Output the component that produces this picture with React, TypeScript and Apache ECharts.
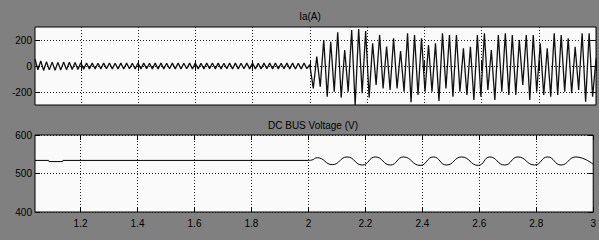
import React, { useEffect, useRef } from "react";
import * as echarts from "echarts";

// ---- data ----
const X_MIN = 1.04;
const X_MAX = 3;
const X_TICKS = [1.2, 1.4, 1.6, 1.8, 2, 2.2, 2.4, 2.6, 2.8, 3];
const IA_TICKS = [-200, 0, 200];
const V_TICKS = [400, 500, 600];

const IA_TITLE = "Ia(A)";
const V_TITLE = "DC BUS Voltage (V)";

// Ia before the load step: sampled every half cycle starting at 1.04 s
const IA_PRE_START = 1.04;
const IA_PRE_STEP = 0.01;
const iaPre = [
  54, -30, 38, -34, 32, -30, 30, -32, 28, -30,
  30, -28, 28, -27, 26, -26, 25, -24, 23, -22,
  22, -23, 21, -22, 22, -21, 23, -22, 21, -22,
  22, -23, 22, -21, 21, -22, 23, -22, 22, -21,
  21, -22, 22, -23, 22, -22, 21, -21, 22, -22,
  23, -22, 21, -21, 22, -23, 22, -22, 21, -22,
  22, -21, 23, -22, 22, -22, 21, -21, 22, -23,
  22, -22, 21, -21, 22, -22, 23, -22, 21, -22,
  22, -21, 22, -22, 23, -22, 21, -21, 22, -22,
  22, -23, 21, -22, 22, -21,
];

// Ia after the load step: sampled every half cycle starting at 2.0 s
const IA_POST_START = 2.0;
const IA_POST_STEP = 0.0122;
const iaPost = [
  10, -172, 72, -159, 200, -236, 187, -197, 259, -243,
  123, -197, 277, -300, 285, -210, 269, -243, 174, -146,
  238, -172, 150, -185, 213, -172, 115, -197, 251, -279,
  238, -223, 213, -197, 161, -197, 174, -269, 251, -172,
  238, -236, 238, -197, 136, -223, 148, -262, 238, -236,
  251, -185, 123, -262, 238, -197, 251, -223, 238, -223,
  200, -146, 238, -262, 238, -197, 174, -223, 136, -236,
  251, -223, 238, -197, 213, -210, 148, -185, 251, -275,
  251, -236, 60,
];

// DC bus voltage
const vPreT = [1.04, 1.088, 1.089, 1.137, 1.138, 2.0];
const vPreV = [534, 534, 531, 531, 534, 534];
const vPostT = [
  2.0, 2.012, 2.031, 2.084, 2.136, 2.189, 2.235, 2.288, 2.334, 2.392,
  2.439, 2.485, 2.538, 2.596, 2.637, 2.689, 2.736, 2.794, 2.84, 2.887,
  2.939, 3.0,
];
const vPostV = [
  534, 535, 541, 523, 543, 522, 543, 522, 543, 521,
  543, 522, 543, 521, 543, 522, 543, 522, 543, 522,
  543, 524,
];

const FONT = "'Liberation Sans', Arial, sans-serif";

export default function App() {
  const ref = useRef<HTMLDivElement>(null);

  useEffect(() => {
    if (!ref.current) return;
    const chart = echarts.init(ref.current, undefined, { renderer: "svg" });

    const iaData: [number, number][] = [];
    iaPre.forEach((v, i) => iaData.push([IA_PRE_START + i * IA_PRE_STEP, v]));
    iaPost.forEach((v, i) => iaData.push([IA_POST_START + i * IA_POST_STEP, v]));
    const vPre = vPreT.map((t, i) => [t, vPreV[i]]);
    const vPost = vPostT.map((t, i) => [t, vPostV[i]]);

    const tick = { show: true, inside: true, length: 5, lineStyle: { color: "#000", width: 1 } };
    const split = { show: true, lineStyle: { color: "#222", type: [1, 2] as any, width: 1 } };
    const label = { color: "#000", fontSize: 10, fontFamily: FONT };

    const xBase = (gridIndex: number, position: string, showLabel: boolean, showSplit: boolean) => ({
      type: "value",
      gridIndex,
      position,
      min: X_MIN,
      max: X_MAX,
      axisLine: { show: false },
      axisTick: { ...tick, customValues: X_TICKS },
      axisLabel: showLabel
        ? { ...label, margin: 6, customValues: X_TICKS }
        : { show: false, customValues: X_TICKS },
      splitLine: showSplit ? split : { show: false },
    });

    const yBase = (
      gridIndex: number,
      position: string,
      min: number,
      max: number,
      ticks: number[],
      showLabel: boolean,
      showSplit: boolean
    ) => ({
      type: "value",
      gridIndex,
      position,
      min,
      max,
      axisLine: { show: false },
      axisTick: { ...tick, customValues: ticks },
      axisLabel: showLabel
        ? { ...label, margin: 3, customValues: ticks }
        : { show: false, customValues: ticks },
      splitLine: showSplit ? split : { show: false },
    });

    chart.setOption({
      animation: false,
      backgroundColor: "#808080",
      textStyle: { fontFamily: FONT },
      grid: [
        {
          left: 35, top: 27, width: 561, height: 78,
          show: true, backgroundColor: "#fafafa", borderColor: "#000", borderWidth: 1,
        },
        {
          left: 35, top: 135, width: 561, height: 77,
          show: true, backgroundColor: "#fafafa", borderColor: "#000", borderWidth: 1,
        },
      ],
      xAxis: [
        xBase(0, "bottom", false, true),
        xBase(0, "top", false, false),
        xBase(1, "bottom", true, true),
        xBase(1, "top", false, false),
      ],
      yAxis: [
        yBase(0, "left", -300, 300, IA_TICKS, true, true),
        yBase(0, "right", -300, 300, IA_TICKS, false, false),
        yBase(1, "left", 400, 600, V_TICKS, true, true),
        yBase(1, "right", 400, 600, V_TICKS, false, false),
      ],
      graphic: [
        {
          type: "text", x: 310, y: 16,
          style: { text: IA_TITLE, fill: "#000", font: `10px ${FONT}`, textAlign: "center", textVerticalAlign: "middle" },
        },
        {
          type: "text", x: 313, y: 125,
          style: { text: V_TITLE, fill: "#000", font: `10px ${FONT}`, textAlign: "center", textVerticalAlign: "middle" },
        },
      ],
      series: [
        {
          type: "line", xAxisIndex: 0, yAxisIndex: 0, data: iaData,
          symbol: "none", lineStyle: { color: "#111", width: 1.3 },
        },
        {
          type: "line", xAxisIndex: 2, yAxisIndex: 2, data: vPre,
          symbol: "none", lineStyle: { color: "#000", width: 1 },
        },
        {
          type: "line", xAxisIndex: 2, yAxisIndex: 2, data: vPost, smooth: 0.5,
          symbol: "none", lineStyle: { color: "#000", width: 1 },
        },
      ],
    });

    return () => chart.dispose();
  }, []);

  return (
    <div
      ref={ref}
      style={{ position: "absolute", left: 0, top: 0, width: 599, height: 240, background: "#808080" }}
    />
  );
}
